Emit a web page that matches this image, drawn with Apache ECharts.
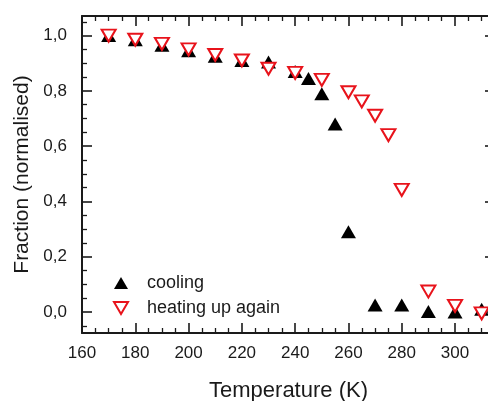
<!DOCTYPE html>
<html>
<head>
<meta charset="utf-8">
<script src="https://cdn.jsdelivr.net/npm/echarts@6/dist/echarts.min.js"></script>
<style>
  html, body { margin: 0; padding: 0; background: #fff; }
  #chart { width: 488px; height: 401px; }
</style>
</head>
<body>
<div id="chart"></div>
<script>
// cooling run (black up triangles)
var coolT = [170, 180, 190, 200, 210, 220, 230, 240, 245, 250, 255, 260, 270, 280, 290, 300, 310];
var coolF = [1.0, 0.985, 0.965, 0.945, 0.925, 0.91, 0.905, 0.87, 0.845, 0.79, 0.68, 0.29, 0.025, 0.025, 0.002, 0.0, 0.01];
// heating up again (red open down triangles)
var heatT = [170, 180, 190, 200, 210, 220, 230, 240, 250, 260, 265, 270, 275, 280, 290, 300, 310];
var heatF = [1.0, 0.985, 0.97, 0.95, 0.93, 0.91, 0.88, 0.865, 0.84, 0.795, 0.762, 0.71, 0.64, 0.442, 0.074, 0.022, -0.005];

var xMajor = [160, 180, 200, 220, 240, 260, 280, 300];
var xMinor = [165, 170, 175, 185, 190, 195, 205, 210, 215, 225, 230, 235, 245, 250, 255, 265, 270, 275, 285, 290, 295, 305, 310];
var yMajor = [0, 0.2, 0.4, 0.6, 0.8, 1.0];
var yMinor = [-0.05, 0.05, 0.1, 0.15, 0.25, 0.3, 0.35, 0.45, 0.5, 0.55, 0.65, 0.7, 0.75, 0.85, 0.9, 0.95, 1.05];

var seriesNames = ['cooling', 'heating up again'];

function pairs(xs, ys) {
	var out = [];
	for (var i = 0; i < xs.length; i++) {
		out.push([xs[i], ys[i]]);
	}
	return out;
}

var font = '"Liberation Sans", Arial, sans-serif';
var ink = '#1a1a1a';
var xMin = 160, xMax = 315;
var yMin = -0.076, yMax = 1.071;
var triUp = 'path://M5,0 L10,8.66 L0,8.66 Z';
var triDown = 'path://M0,0 L10,0 L5,8.66 Z';

function xAx(pos, ticks, len, major) {
	return {
		type: 'value', position: pos, min: xMin, max: xMax,
		axisLine: { show: major, onZero: false, lineStyle: { color: ink, width: 2 } },
		axisTick: { show: true, inside: true, length: len, customValues: ticks, lineStyle: { color: ink, width: major ? 1.6 : 1.3 } },
		axisLabel: { show: false, customValues: ticks },
		splitLine: { show: false }
	};
}
function yAx(pos, ticks, len, major) {
	return {
		type: 'value', position: pos, min: yMin, max: yMax,
		axisLine: { show: major, onZero: false, lineStyle: { color: ink, width: 2 } },
		axisTick: { show: true, inside: true, length: len, customValues: ticks, lineStyle: { color: ink, width: major ? 1.6 : 1.3 } },
		axisLabel: { show: false, customValues: ticks },
		splitLine: { show: false }
	};
}

var xBottom = xAx('bottom', xMajor, 10, true);
xBottom.axisLabel = {
	show: true, customValues: xMajor, margin: 12,
	fontFamily: font, fontSize: 17, color: ink
};
xBottom.name = 'Temperature (K)';
xBottom.nameLocation = 'middle';
xBottom.nameGap = 47;
xBottom.nameTextStyle = { fontFamily: font, fontSize: 22, color: ink };

var yLeft = yAx('left', yMajor, 10, true);
yLeft.axisLabel = {
	show: true, customValues: yMajor, margin: 15,
	fontFamily: font, fontSize: 17, color: ink,
	formatter: function (v) { return v.toFixed(1).replace('.', ','); }
};
yLeft.name = 'Fraction (normalised)';
yLeft.nameLocation = 'middle';
yLeft.nameGap = 47;
yLeft.nameTextStyle = { fontFamily: font, fontSize: 21, color: ink };

var option = {
	animation: false,
	backgroundColor: '#fff',
	grid: { left: 82, right: -7, top: 16, bottom: 68, outerBoundsMode: 'none', containLabel: false },
	legend: {
		data: seriesNames,
		orient: 'vertical',
		left: 108, top: 269,
		itemWidth: 14, itemHeight: 13, itemGap: 7,
		textStyle: { fontFamily: font, fontSize: 18, lineHeight: 18, color: ink, padding: [0, 0, 0, 14] }
	},
	xAxis: [
		xBottom,
		xAx('bottom', xMinor, 5, false),
		xAx('top', xMajor, 10, true),
		xAx('top', xMinor, 5, false)
	],
	yAxis: [
		yLeft,
		yAx('left', yMinor, 5, false),
		yAx('right', yMajor, 10, true),
		yAx('right', yMinor, 5, false)
	],
	series: [
		{
			name: seriesNames[0], type: 'scatter', xAxisIndex: 0, yAxisIndex: 0,
			symbol: triUp, symbolSize: [15, 13],
			itemStyle: { color: '#000', opacity: 1 },
			data: pairs(coolT, coolF)
		},
		{
			name: seriesNames[1], type: 'scatter', xAxisIndex: 0, yAxisIndex: 0,
			symbol: triDown, symbolSize: [14, 12],
			itemStyle: { color: '#fff', borderColor: '#e8131b', borderWidth: 2, opacity: 1 },
			data: pairs(heatT, heatF)
		}
	]
};

var myChart = echarts.init(document.getElementById('chart'));
myChart.setOption(option);
</script>
</body>
</html>
